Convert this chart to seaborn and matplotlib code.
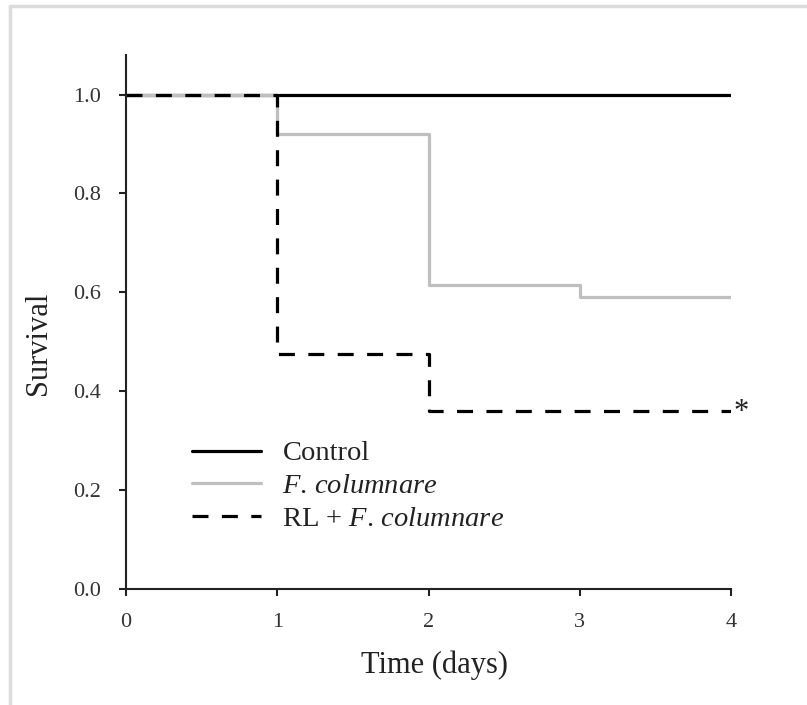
import matplotlib
matplotlib.use("Agg")
import matplotlib.pyplot as plt
import seaborn as sns
import pandas as pd
from matplotlib.lines import Line2D

days = [0, 1, 2, 3, 4]
control = [1.0, 1.0, 1.0, 1.0, 1.0]
f_columnare = [1.0, 0.92, 0.615, 0.59, 0.59]
rl_f_columnare = [1.0, 0.475, 0.36, 0.36, 0.36]
series_labels = ["Control", r"$\it{F.\,columnare}$", r"RL + $\it{F.\,columnare}$"]
x_ticks = [0, 1, 2, 3, 4]
y_ticks = [0.0, 0.2, 0.4, 0.6, 0.8, 1.0]

sns.set_theme(style="white")
plt.rcParams["font.family"] = ["Liberation Serif", "DejaVu Serif"]
plt.rcParams["mathtext.fontset"] = "custom"
plt.rcParams["mathtext.rm"] = "Liberation Serif"
plt.rcParams["mathtext.it"] = "Liberation Serif:italic"

fig = plt.figure(figsize=(8.07, 7.05), dpi=100)
ax = fig.add_axes([0.156, 0.1645, 0.75, 0.7575])

lw = 2.3
sns.lineplot(x=days, y=control, ax=ax, drawstyle="steps-post", color="black",
             linewidth=lw, label=series_labels[0])
sns.lineplot(x=days, y=f_columnare, ax=ax, drawstyle="steps-post", color="#bfbfbf",
             linewidth=lw, label=series_labels[1])
sns.lineplot(x=days, y=rl_f_columnare, ax=ax, drawstyle="steps-post", color="black",
             linewidth=lw, linestyle=(0, (5, 4.2)), label=series_labels[2])

ax.annotate("*", xy=(days[-1], rl_f_columnare[-1]), xytext=(2, -1),
            textcoords="offset points", ha="left", va="center", fontsize=22, color="#222")

ax.set_xlim(0, 4)
ax.set_ylim(0, 1.08)
ax.set_xticks(x_ticks)
ax.set_xticklabels([str(t) for t in x_ticks])
ax.set_yticks(y_ticks)
ax.set_yticklabels([f"{t:.1f}" for t in y_ticks])
for s in ["top", "right"]:
    ax.spines[s].set_visible(False)
for s in ["left", "bottom"]:
    ax.spines[s].set_color("#222")
    ax.spines[s].set_linewidth(1.5)
ax.tick_params(axis="both", direction="out", length=5, width=1.5, color="#222",
               labelsize=16, labelcolor="#333", left=True, bottom=True)
ax.tick_params(axis="y", pad=13)
ax.tick_params(axis="x", pad=12)
ax.set_xlabel("Time (days)", fontsize=22, color="#222")
ax.set_ylabel("Survival", fontsize=22, color="#222")
ax.xaxis.set_label_coords(0.51, -0.115)
ax.yaxis.set_label_coords(-0.12, 0.46)

leg = ax.legend(loc="upper left", bbox_to_anchor=(0.11, 0.278), frameon=False,
                fontsize=20.5, handlelength=2.42, handletextpad=0.74, labelspacing=0.24,
                borderpad=0, borderaxespad=0)
for t in leg.get_texts():
    t.set_color("#222")

# light gray frame on top and left edges of the image
fig.add_artist(Line2D([10/807, 1.0], [1 - 6/705, 1 - 6/705], transform=fig.transFigure,
                      color="#dcdcdc", linewidth=2.5))
fig.add_artist(Line2D([10/807, 10/807], [0, 1 - 6/705], transform=fig.transFigure,
                      color="#dcdcdc", linewidth=2.5))

fig.savefig("out.png", dpi=100)
